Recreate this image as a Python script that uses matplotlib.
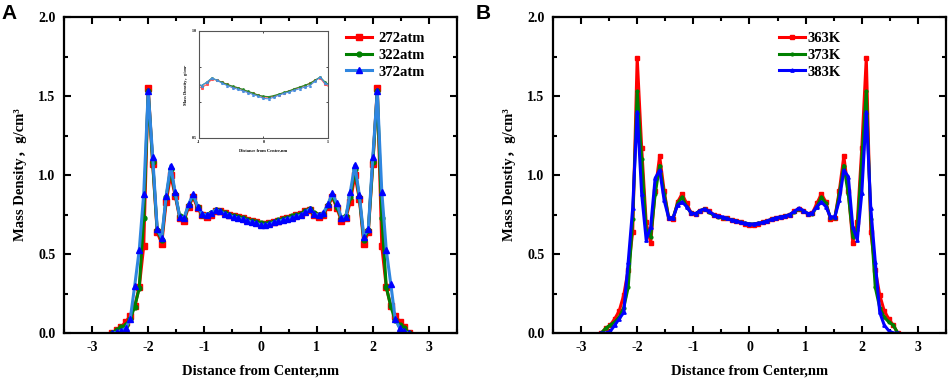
import numpy as np
import matplotlib
matplotlib.use("Agg")
import matplotlib.pyplot as plt
from matplotlib.ticker import MultipleLocator

plt.rcParams['font.family'] = ['Liberation Serif', 'Noto Sans CJK SC', 'DejaVu Sans']
plt.rcParams['font.weight'] = 'bold'
plt.rcParams['axes.unicode_minus'] = False

# distance from center, nm
x = [-2.64, -2.56, -2.48, -2.40, -2.32, -2.24, -2.16, -2.08, -2.00, -1.92, -1.84, -1.76,
     -1.68, -1.60, -1.52, -1.44, -1.36, -1.28, -1.20, -1.12, -1.04, -0.96, -0.88, -0.80,
     -0.72, -0.64, -0.56, -0.48, -0.40, -0.32, -0.24, -0.16, -0.08, 0.00, 0.08, 0.16,
     0.24, 0.32, 0.40, 0.48, 0.56, 0.64, 0.72, 0.80, 0.88, 0.96, 1.04, 1.12,
     1.20, 1.28, 1.36, 1.44, 1.52, 1.60, 1.68, 1.76, 1.84, 1.92, 2.00, 2.08,
     2.16, 2.24, 2.32, 2.40, 2.48, 2.56, 2.64]

# panel A : pressure
rho_272atm = [0.00, 0.02, 0.04, 0.07, 0.11, 0.17, 0.29, 0.55, 1.55, 1.07, 0.64, 0.565,
              0.83, 1.00, 0.87, 0.73, 0.71, 0.80, 0.86, 0.79, 0.745, 0.735, 0.75, 0.775,
              0.77, 0.76, 0.75, 0.74, 0.735, 0.725, 0.715, 0.708, 0.70, 0.692, 0.69, 0.695,
              0.703, 0.712, 0.72, 0.728, 0.736, 0.745, 0.755, 0.77, 0.78, 0.75, 0.735, 0.745,
              0.80, 0.86, 0.79, 0.71, 0.73, 0.83, 1.00, 0.85, 0.565, 0.64, 1.07, 1.55,
              0.55, 0.29, 0.17, 0.11, 0.07, 0.04, 0.00]
rho_322atm = [0.00, 0.02, 0.035, 0.05, 0.09, 0.167, 0.285, 0.73, 1.53, 1.08, 0.65, 0.59,
              0.86, 1.04, 0.88, 0.74, 0.725, 0.81, 0.87, 0.80, 0.75, 0.745, 0.76, 0.78,
              0.77, 0.76, 0.75, 0.742, 0.735, 0.727, 0.718, 0.71, 0.70, 0.695, 0.693, 0.698,
              0.705, 0.713, 0.72, 0.73, 0.738, 0.746, 0.755, 0.77, 0.785, 0.76, 0.745, 0.755,
              0.81, 0.87, 0.80, 0.725, 0.74, 0.86, 1.04, 0.86, 0.59, 0.65, 1.08, 1.53,
              0.73, 0.29, 0.17, 0.08, 0.05, 0.03, 0.00]
rho_372atm = [0.00, 0.005, 0.015, 0.03, 0.09, 0.30, 0.525, 0.88, 1.53, 1.115, 0.66, 0.60,
              0.87, 1.06, 0.89, 0.735, 0.73, 0.815, 0.88, 0.80, 0.755, 0.745, 0.76, 0.78,
              0.77, 0.755, 0.745, 0.735, 0.728, 0.72, 0.712, 0.703, 0.695, 0.685, 0.683, 0.69,
              0.70, 0.708, 0.715, 0.723, 0.73, 0.738, 0.745, 0.765, 0.785, 0.755, 0.745, 0.76,
              0.815, 0.885, 0.82, 0.73, 0.735, 0.895, 1.063, 0.873, 0.61, 0.66, 1.115, 1.53,
              0.894, 0.525, 0.31, 0.087, 0.03, 0.01, 0.00]

# panel B : temperature
rho_363K = [0.00, 0.03, 0.05, 0.09, 0.14, 0.24, 0.40, 0.64, 1.74, 1.17, 0.70, 0.57,
            0.90, 1.12, 0.90, 0.73, 0.72, 0.83, 0.88, 0.82, 0.76, 0.755, 0.77, 0.785,
            0.77, 0.75, 0.74, 0.73, 0.725, 0.715, 0.71, 0.70, 0.69, 0.685, 0.685, 0.69,
            0.70, 0.71, 0.72, 0.728, 0.735, 0.74, 0.75, 0.77, 0.785, 0.77, 0.755, 0.76,
            0.82, 0.88, 0.83, 0.72, 0.73, 0.90, 1.12, 0.90, 0.57, 0.70, 1.17, 1.74,
            0.64, 0.40, 0.24, 0.14, 0.09, 0.05, 0.00]
rho_373K = [0.00, 0.03, 0.05, 0.07, 0.10, 0.16, 0.29, 0.72, 1.53, 1.10, 0.65, 0.61,
            0.88, 1.06, 0.88, 0.73, 0.73, 0.82, 0.86, 0.80, 0.76, 0.755, 0.775, 0.785,
            0.765, 0.745, 0.735, 0.73, 0.725, 0.715, 0.71, 0.70, 0.695, 0.69, 0.69, 0.695,
            0.70, 0.71, 0.72, 0.728, 0.735, 0.74, 0.75, 0.765, 0.785, 0.775, 0.755, 0.755,
            0.80, 0.86, 0.82, 0.73, 0.73, 0.88, 1.06, 0.88, 0.61, 0.65, 1.10, 1.53,
            0.72, 0.29, 0.16, 0.10, 0.07, 0.05, 0.00]
rho_383K = [0.00, 0.00, 0.01, 0.05, 0.09, 0.13, 0.45, 0.79, 1.40, 0.88, 0.59, 0.67,
            0.98, 1.03, 0.84, 0.73, 0.73, 0.81, 0.83, 0.80, 0.76, 0.755, 0.775, 0.785,
            0.77, 0.75, 0.74, 0.735, 0.725, 0.715, 0.71, 0.70, 0.695, 0.69, 0.69, 0.695,
            0.70, 0.71, 0.72, 0.73, 0.735, 0.74, 0.75, 0.77, 0.79, 0.775, 0.755, 0.76,
            0.80, 0.83, 0.80, 0.736, 0.735, 0.84, 1.03, 0.99, 0.67, 0.59, 0.885, 1.40,
            0.79, 0.45, 0.13, 0.05, 0.015, 0.00, 0.00]

labels_A = ['272atm', '322atm', '372atm']
labels_B = ['363K', '373K', '383K']


def style_axes(ax):
    ax.set_xlim(-3.5, 3.5)
    ax.set_ylim(0, 2.0)
    ax.xaxis.set_major_locator(MultipleLocator(1))
    ax.xaxis.set_minor_locator(MultipleLocator(0.5))
    ax.yaxis.set_major_locator(MultipleLocator(0.5))
    ax.yaxis.set_minor_locator(MultipleLocator(0.25))
    ax.set_yticklabels(['%.1f' % v for v in ax.get_yticks()])
    ax.tick_params(which='both', direction='in', top=True, right=True, width=1.5, labelsize=10)
    ax.tick_params(which='major', length=5, pad=6)
    ax.tick_params(which='minor', length=3)
    for s in ax.spines.values():
        s.set_linewidth(1.6)
    ax.set_xlabel('Distance from Center,nm', fontsize=10.5, fontweight='bold', labelpad=7)


fig = plt.figure(figsize=(9.48, 3.78), dpi=100)

# ---- panel A
axA = fig.add_axes([0.0675, 0.119, 0.4146, 0.836])
axA.plot(x, rho_272atm, color='red', lw=2.2, marker='s', ms=4, label=labels_A[0])
axA.plot(x, rho_322atm, color='green', lw=2.2, marker='o', ms=3.5, label=labels_A[1])
axA.plot(x, rho_372atm, color='#2f86e0', lw=2.2, marker='^', ms=4.5, mfc='blue', mec='blue', label=labels_A[2])
style_axes(axA)
axA.set_ylabel('Mass Density，g/cm³', fontsize=10.5, fontweight='bold', labelpad=8)
axA.legend(loc='upper right', frameon=False, fontsize=10.5, handlelength=1.8,
           labelspacing=0.25, handletextpad=0.4, borderaxespad=0.6, numpoints=1,
           bbox_to_anchor=(0.955, 1.0))

# inset zoomed on the middle part
ins = fig.add_axes([0.2099, 0.635, 0.136, 0.283])
ins.plot(x, rho_272atm, color='#ff5555', lw=0.8, marker='s', ms=1.2)
ins.plot(x, rho_322atm, color='#2e8b2e', lw=0.8, marker='o', ms=1.0)
ins.plot(x, rho_372atm, color='#4a90e2', lw=0.8, marker='^', ms=1.2)
ins.set_xlim(-1, 1)
ins.set_ylim(0.5, 1.0)
ins.set_xticks([-1, 0, 1])
ins.set_yticks([0.5, 1.0])
ins.set_yticks([2 / 3, 5 / 6], minor=True)
ins.set_yticklabels(['0.5', '1.0'])
ins.tick_params(which='both', direction='in', top=True, right=True, labelsize=3, length=1.5, width=0.5, pad=1.5)
for s in ins.spines.values():
    s.set_linewidth(0.8)
    s.set_color('#555555')
ins.set_xlabel('Distance from Center,nm', fontsize=3.2, fontweight='bold', labelpad=3)
ins.set_ylabel('Mass Density，g/cm³', fontsize=3.2, fontweight='bold', labelpad=3)

# ---- panel B
axB = fig.add_axes([0.5833, 0.119, 0.4146, 0.836])
axB.plot(x, rho_363K, color='red', lw=2.2, marker='s', ms=2.2, label=labels_B[0])
axB.plot(x, rho_373K, color='green', lw=2.2, marker='o', ms=2.0, label=labels_B[1])
axB.plot(x, rho_383K, color='blue', lw=2.2, marker='^', ms=2.4, label=labels_B[2])
style_axes(axB)
axB.set_ylabel('Mass Denstiy，g/cm³', fontsize=10.5, fontweight='bold', labelpad=8)
axB.legend(loc='upper right', frameon=False, fontsize=10.5, handlelength=1.8,
           labelspacing=0.25, handletextpad=0.2, borderaxespad=0.6, numpoints=1,
           bbox_to_anchor=(0.77, 1.0))

fig.text(0.002, 0.99, 'A', family=['Liberation Sans'], fontsize=15, fontweight='bold', va='top')
fig.text(0.502, 0.99, 'B', family=['Liberation Sans'], fontsize=15, fontweight='bold', va='top')

fig.savefig('out.png', dpi=100)
